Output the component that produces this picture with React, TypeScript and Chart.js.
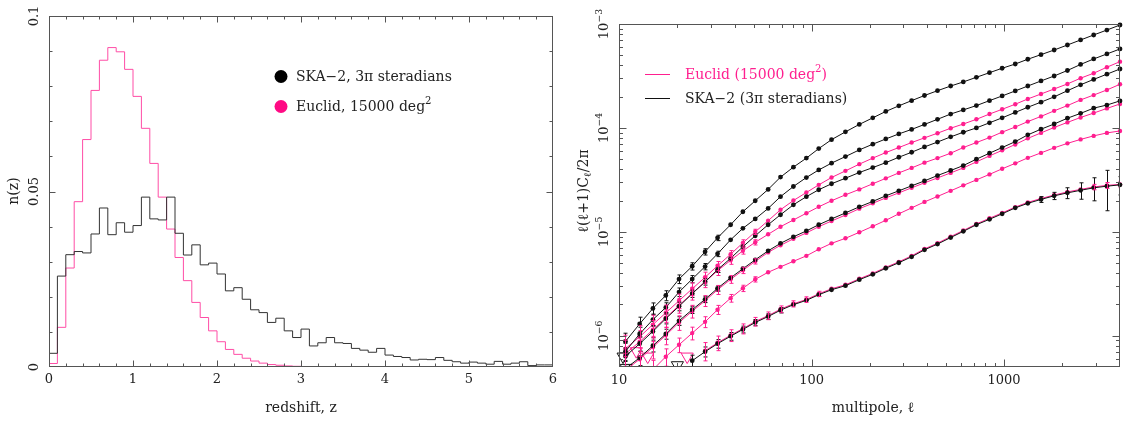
import React, { useEffect, useRef } from 'react';
import { Chart, registerables } from 'chart.js';
Chart.register(...registerables);

// ---------------- Left panel data: n(z) histograms ----------------
const zBins = [0.0, 0.1, 0.2, 0.3, 0.4, 0.5, 0.6, 0.7, 0.8, 0.9, 1.0, 1.1, 1.2, 1.3, 1.4, 1.5, 1.6, 1.7, 1.8, 1.9,
  2.0, 2.1, 2.2, 2.3, 2.4, 2.5, 2.6, 2.7, 2.8, 2.9, 3.0, 3.1, 3.2, 3.3, 3.4, 3.5, 3.6, 3.7, 3.8, 3.9,
  4.0, 4.1, 4.2, 4.3, 4.4, 4.5, 4.6, 4.7, 4.8, 4.9, 5.0, 5.1, 5.2, 5.3, 5.4, 5.5, 5.6, 5.7, 5.8, 5.9];
const zLastEdge = 6.0;
const nzSKA = [0.0039, 0.0259, 0.0320, 0.0329, 0.0325, 0.0379, 0.0453, 0.0377, 0.0411, 0.0384,
  0.0403, 0.0484, 0.0422, 0.0419, 0.0484, 0.0381, 0.0319, 0.0348, 0.0291, 0.0296,
  0.0265, 0.0217, 0.0226, 0.0193, 0.0163, 0.0155, 0.0127, 0.0139, 0.0103, 0.0084,
  0.0108, 0.0060, 0.0069, 0.0084, 0.0069, 0.0067, 0.0053, 0.0048, 0.0042, 0.0053,
  0.0034, 0.0030, 0.0027, 0.0020, 0.0022, 0.0021, 0.0027, 0.0019, 0.0015, 0.0011,
  0.0014, 0.0011, 0.0008, 0.0016, 0.0008, 0.0011, 0.0015, 0.0004, 0.0006, 0.0006];
const nzEuclid = [0.0010, 0.0113, 0.0282, 0.0471, 0.0648, 0.0788, 0.0874, 0.0910, 0.0898, 0.0848,
  0.0771, 0.0680, 0.0580, 0.0484, 0.0393, 0.0312, 0.0246, 0.0184, 0.0141, 0.0103,
  0.0072, 0.0050, 0.0036, 0.0025, 0.0017, 0.0011, 0.0007, 0.0005, 0.0003, 0.0002,
  0.0001, 0, 0, 0, 0, 0, 0, 0, 0, 0,
  0, 0, 0, 0, 0, 0, 0, 0, 0, 0,
  0, 0, 0, 0, 0, 0, 0, 0, 0, 0];
const zTickLabels = ['0', '1', '2', '3', '4', '5', '6'];
const nTickLabels = ['0', '0.05', '0.1'];

// ---------------- Right panel data: angular power spectra ----------------
const ell = [10.8, 12.8, 15.0, 17.5, 20.5, 24.0, 28.0, 32.5, 38.0, 44.0, 51.0, 59.5, 69.0, 80.5, 94.0, 109, 127, 150, 177, 208,
  243, 284, 331, 386, 451, 528, 614, 718, 840, 977, 1143, 1328, 1555, 1820, 2133, 2497, 2920, 3420, 4000];
const clSKA1 = [8.81e-7, 1.30e-6, 1.83e-6, 2.44e-6, 3.51e-6, 4.66e-6, 6.43e-6, 8.75e-6, 1.17e-5, 1.56e-5, 1.99e-5, 2.56e-5, 3.36e-5,
  4.19e-5, 5.12e-5, 6.32e-5, 7.71e-5, 9.16e-5, 1.08e-4, 1.25e-4, 1.44e-4, 1.63e-4, 1.83e-4, 2.05e-4, 2.28e-4, 2.53e-4, 2.77e-4,
  3.07e-4, 3.40e-4, 3.75e-4, 4.12e-4, 4.58e-4, 5.07e-4, 5.62e-4, 6.28e-4, 7.02e-4, 7.84e-4, 8.75e-4, 9.78e-4];
const clSKA2 = [7.06e-7, 1.04e-6, 1.43e-6, 1.87e-6, 2.63e-6, 3.51e-6, 4.63e-6, 6.14e-6, 8.38e-6, 1.08e-5, 1.33e-5, 1.68e-5, 2.18e-5,
  2.73e-5, 3.33e-5, 3.94e-5, 4.58e-5, 5.30e-5, 6.14e-5, 6.97e-5, 7.83e-5, 8.75e-5, 9.67e-5, 1.08e-4, 1.21e-4, 1.36e-4, 1.49e-4,
  1.64e-4, 1.83e-4, 2.03e-4, 2.27e-4, 2.53e-4, 2.83e-4, 3.16e-4, 3.57e-4, 4.08e-4, 4.61e-4, 5.15e-4, 5.75e-4];
const clSKA3 = [6.35e-7, 8.38e-7, 1.10e-6, 1.46e-6, 1.92e-6, 2.54e-6, 3.30e-6, 4.32e-6, 5.56e-6, 7.18e-6, 9.16e-6, 1.17e-5, 1.46e-5,
  1.82e-5, 2.18e-5, 2.54e-5, 2.90e-5, 3.28e-5, 3.72e-5, 4.15e-5, 4.63e-5, 5.22e-5, 5.83e-5, 6.56e-5, 7.31e-5, 8.20e-5, 9.08e-5,
  1.00e-4, 1.12e-4, 1.25e-4, 1.41e-4, 1.58e-4, 1.77e-4, 1.99e-4, 2.28e-4, 2.60e-4, 2.93e-4, 3.29e-4, 3.69e-4];
const clSKA4 = [4.82e-7, 6.14e-7, 8.02e-7, 1.04e-6, 1.39e-6, 1.78e-6, 2.24e-6, 2.86e-6, 3.61e-6, 4.41e-6, 5.38e-6, 6.56e-6, 7.74e-6,
  8.95e-6, 1.02e-5, 1.17e-5, 1.33e-5, 1.52e-5, 1.74e-5, 1.96e-5, 2.22e-5, 2.48e-5, 2.77e-5, 3.09e-5, 3.48e-5, 3.89e-5, 4.34e-5,
  5.00e-5, 5.71e-5, 6.47e-5, 7.38e-5, 8.57e-5, 9.72e-5, 1.09e-4, 1.24e-4, 1.38e-4, 1.55e-4, 1.66e-4, 1.82e-4];
const clSKA5 = [null, null, null, null, null, 5.75e-7, 7.02e-7, 8.38e-7, 9.89e-7, 1.15e-6, 1.34e-6, 1.53e-6, 1.76e-6,
  1.99e-6, 2.19e-6, 2.48e-6, 2.77e-6, 3.03e-6, 3.46e-6, 3.90e-6, 4.46e-6, 5.04e-6, 5.75e-6, 6.71e-6, 7.62e-6, 8.81e-6, 1.01e-5,
  1.17e-5, 1.32e-5, 1.49e-5, 1.70e-5, 1.88e-5, 2.05e-5, 2.22e-5, 2.37e-5, 2.51e-5, 2.65e-5, 2.75e-5, 2.83e-5];
const clEuc1 = [7.50e-7, 9.77e-7, 1.28e-6, 1.66e-6, 2.17e-6, 2.83e-6, 3.65e-6, 4.71e-6, 6.08e-6, 7.83e-6, 1.00e-5, 1.28e-5, 1.63e-5,
  2.00e-5, 2.39e-5, 2.83e-5, 3.33e-5, 3.86e-5, 4.48e-5, 5.12e-5, 5.79e-5, 6.47e-5, 7.23e-5, 8.02e-5, 8.89e-5, 9.93e-5, 1.09e-4,
  1.21e-4, 1.36e-4, 1.51e-4, 1.69e-4, 1.90e-4, 2.12e-4, 2.37e-4, 2.65e-4, 3.01e-4, 3.36e-4, 3.84e-4, 4.34e-4];
const clEuc2 = [6.71e-7, 8.75e-7, 1.14e-6, 1.49e-6, 1.96e-6, 2.56e-6, 3.30e-6, 4.22e-6, 5.32e-6, 6.56e-6, 7.93e-6, 9.46e-6, 1.12e-5,
  1.30e-5, 1.51e-5, 1.74e-5, 1.99e-5, 2.27e-5, 2.56e-5, 2.90e-5, 3.27e-5, 3.69e-5, 4.12e-5, 4.63e-5, 5.12e-5, 5.71e-5, 6.47e-5,
  7.23e-5, 8.07e-5, 9.10e-5, 1.02e-4, 1.15e-4, 1.29e-4, 1.46e-4, 1.64e-4, 1.86e-4, 2.07e-4, 2.32e-4, 2.63e-4];
const clEuc3 = [4.66e-7, 5.94e-7, 7.76e-7, 1.01e-6, 1.34e-6, 1.72e-6, 2.17e-6, 2.77e-6, 3.49e-6, 4.26e-6, 5.20e-6, 6.34e-6, 7.41e-6,
  8.57e-6, 9.76e-6, 1.12e-5, 1.27e-5, 1.45e-5, 1.67e-5, 1.88e-5, 2.12e-5, 2.37e-5, 2.65e-5, 2.96e-5, 3.30e-5, 3.69e-5, 4.12e-5,
  4.71e-5, 5.38e-5, 6.08e-5, 6.93e-5, 7.93e-5, 8.95e-5, 1.01e-4, 1.13e-4, 1.26e-4, 1.39e-4, 1.54e-4, 1.70e-4];
const clEuc4 = [2.77e-7, 3.61e-7, 4.71e-7, 6.28e-7, 8.18e-7, 1.06e-6, 1.36e-6, 1.78e-6, 2.30e-6, 2.86e-6, 3.49e-6, 4.08e-6, 4.60e-6,
  5.20e-6, 5.87e-6, 6.79e-6, 7.74e-6, 8.66e-6, 9.89e-6, 1.13e-5, 1.29e-5, 1.49e-5, 1.70e-5, 1.94e-5, 2.19e-5, 2.48e-5, 2.80e-5,
  3.16e-5, 3.57e-5, 4.04e-5, 4.56e-5, 5.15e-5, 5.75e-5, 6.43e-5, 7.10e-5, 7.75e-5, 8.38e-5, 8.95e-5, 9.35e-5];
const clEuc5 = [null, null, null, null, null, null, 7.16e-7, 8.55e-7, 1.01e-6, 1.17e-6, 1.37e-6, 1.56e-6, 1.80e-6,
  2.03e-6, 2.23e-6, 2.53e-6, 2.83e-6, 3.09e-6, 3.53e-6, 3.98e-6, 4.55e-6, 5.14e-6, 5.87e-6, 6.84e-6, 7.77e-6, 8.99e-6, 1.03e-5,
  1.19e-5, 1.35e-5, 1.52e-5, 1.73e-5, 1.92e-5, 2.09e-5, 2.26e-5, 2.42e-5, 2.56e-5, 2.70e-5, 2.80e-5, 2.86e-5];
// fractional 1-sigma errors
const errSKA = [0.20, 0.16, 0.13, 0.11, 0.095, 0.08, 0.07, 0.06, 0.05, 0.042, 0.035, 0.03, 0.025, 0.021, 0.018, 0.015, 0.013, 0.011,
  0.01, 0.009, 0.008, 0.007, 0.006, 0.006, 0.005, 0.005, 0.005, 0.005, 0.005, 0.005, 0.005, 0.005, 0.005, 0.005, 0.005, 0.005,
  0.006, 0.006, 0.007];
const errEuclid = [0.35, 0.28, 0.23, 0.19, 0.16, 0.14, 0.12, 0.10, 0.085, 0.07, 0.058, 0.048, 0.04, 0.034, 0.028, 0.024, 0.02, 0.017,
  0.015, 0.013, 0.012, 0.011, 0.01, 0.009, 0.009, 0.008, 0.008, 0.008, 0.008, 0.008, 0.008, 0.008, 0.008, 0.009, 0.009, 0.01,
  0.01, 0.011, 0.012];
const errSKA5 = [null, null, null, null, null, 0.13, 0.11, 0.095, 0.085, 0.075, 0.068, 0.062, 0.058, 0.055, 0.052,
  0.05, 0.05, 0.05, 0.05, 0.05, 0.05, 0.05, 0.05, 0.05, 0.05, 0.05, 0.05, 0.05, 0.05, 0.05, 0.05,
  0.055, 0.065, 0.08, 0.12, 0.18, 0.25, 0.42, 0.2];
const errEuc5 = [null, null, null, null, null, null, 0.2, 0.16, 0.13, 0.11, 0.095, 0.085, 0.075, 0.068, 0.062, 0.058, 0.055, 0.052, 0.05,
  0.05, 0.05, 0.05, 0.05, 0.05, 0.05, 0.05, 0.05, 0.05, 0.05, 0.05, 0.05, 0.05, 0.05, 0.05, 0.05,
  0.055, 0.06, 0.065, 0.07];
// upper limits (open triangles)
const limSKAEll = [10.5, 10.9, 20.1];
const limSKACl = [6.3e-7, 4.9e-7, 5.2e-7];
const limEucEll = [12.3, 14.1, 22.6];
const limEucCl = [7.1e-7, 6.3e-7, 6.3e-7];
const ellTickVals = [10, 100, 1000];
const ellTickLabels = ['10', '100', '1000'];
const clTickVals = [1e-6, 1e-5, 1e-4, 1e-3];
const clTickExps = ['−6', '−5', '−4', '−3'];

// ---------------- styling ----------------
const FONT = '"DejaVu Serif", "Liberation Serif", serif';
const PINK = '#ff1f8f';
const PINK_HIST = '#ff4da6';
const BLACK = '#111111';
const FRAME = '#555555';
const TEXT = '#222222';

type Part = { t: string; sup?: boolean; sub?: boolean };

function drawRich(ctx: CanvasRenderingContext2D, parts: Part[], x: number, y: number, size: number, color: string,
  align: 'left' | 'center' | 'right', rot = 0) {
  ctx.save();
  ctx.translate(x, y);
  ctx.rotate(rot);
  ctx.fillStyle = color;
  ctx.textBaseline = 'middle';
  ctx.textAlign = 'left';
  const m = parts.map((p) => {
    const s = p.sup || p.sub ? size * 0.72 : size;
    ctx.font = `${s}px ${FONT}`;
    return { p, s, w: ctx.measureText(p.t).width };
  });
  const total = m.reduce((a, b) => a + b.w, 0);
  let cx = align === 'left' ? 0 : align === 'center' ? -total / 2 : -total;
  for (const it of m) {
    ctx.font = `${it.s}px ${FONT}`;
    const dy = it.p.sup ? -size * 0.42 : it.p.sub ? size * 0.3 : 0;
    ctx.fillText(it.p.t, cx, dy);
    cx += it.w;
  }
  ctx.restore();
}

function seg(ctx: CanvasRenderingContext2D, x1: number, y1: number, x2: number, y2: number) {
  ctx.beginPath();
  ctx.moveTo(x1, y1);
  ctx.lineTo(x2, y2);
  ctx.stroke();
}

function drawFrame(chart: any, xt: { v: number; len: number }[], yt: { v: number; len: number }[]) {
  const { ctx, chartArea: a, scales } = chart;
  const L = Math.round(a.left) + 0.5, R = Math.round(a.right) - 0.5;
  const T = Math.round(a.top) + 0.5, B = Math.round(a.bottom) - 0.5;
  ctx.save();
  ctx.strokeStyle = FRAME;
  ctx.lineWidth = 1;
  ctx.strokeRect(L, T, R - L, B - T);
  for (const t of xt) {
    const px = Math.round(scales.x.getPixelForValue(t.v)) + 0.5;
    if (px < L - 0.1 || px > R + 0.1) continue;
    seg(ctx, px, B, px, B - t.len);
    seg(ctx, px, T, px, T + t.len);
  }
  for (const t of yt) {
    const py = Math.round(scales.y.getPixelForValue(t.v)) + 0.5;
    if (py < T - 0.1 || py > B + 0.1) continue;
    seg(ctx, L, py, L + t.len, py);
    seg(ctx, R, py, R - t.len, py);
  }
  ctx.restore();
}

function leftConfig(): any {
  const hist = (vals: number[]) =>
    zBins.map((z, i) => ({ x: z, y: vals[i] })).concat([{ x: zLastEdge, y: vals[vals.length - 1] }]);
  const framePlugin = {
    id: 'leftFrame',
    afterDraw(chart: any) {
      const ctx = chart.ctx;
      const xt: { v: number; len: number }[] = [];
      for (let i = 0; i <= 30; i++) xt.push({ v: i * 0.2, len: i % 5 === 0 ? 6 : 3 });
      const yt: { v: number; len: number }[] = [];
      for (let i = 0; i <= 10; i++) yt.push({ v: i * 0.01, len: i % 5 === 0 ? 6 : 3 });
      drawFrame(chart, xt, yt);
      const sx = chart.scales.x, sy = chart.scales.y;
      zTickLabels.forEach((lab) => {
        drawRich(ctx, [{ t: lab }], sx.getPixelForValue(parseFloat(lab)), 380, 13, TEXT, 'center');
      });
      nTickLabels.forEach((lab) => {
        drawRich(ctx, [{ t: lab }], 34.5, sy.getPixelForValue(parseFloat(lab)), 13, TEXT, 'center', -Math.PI / 2);
      });
      drawRich(ctx, [{ t: 'redshift, z' }], 301, 408, 14, TEXT, 'center');
      drawRich(ctx, [{ t: 'n(z)' }], 14, 191, 14, TEXT, 'center', -Math.PI / 2);
      // legend
      ctx.save();
      ctx.fillStyle = '#000000';
      ctx.beginPath(); ctx.arc(281, 76.5, 6.5, 0, Math.PI * 2); ctx.fill();
      ctx.fillStyle = '#ff0a84';
      ctx.beginPath(); ctx.arc(281, 106.5, 6.5, 0, Math.PI * 2); ctx.fill();
      ctx.restore();
      drawRich(ctx, [{ t: 'SKA−2, 3π steradians' }], 296, 77, 14, TEXT, 'left');
      drawRich(ctx, [{ t: 'Euclid, 15000 deg' }, { t: '2', sup: true }], 296, 107, 14, TEXT, 'left');
    },
  };
  return {
    type: 'line',
    data: {
      datasets: [
        { data: hist(nzSKA), borderColor: '#333333', borderWidth: 1, pointRadius: 0, stepped: 'before', fill: false },
        { data: hist(nzEuclid), borderColor: PINK_HIST, borderWidth: 1, pointRadius: 0, stepped: 'before', fill: false },
      ],
    },
    options: {
      animation: false,
      responsive: false,
      devicePixelRatio: 1,
      events: [],
      layout: { padding: { left: 49, right: 7, top: 16, bottom: 54 } },
      scales: {
        x: { type: 'linear', min: 0, max: 6, display: false },
        y: { type: 'linear', min: 0, max: 0.1, display: false },
      },
      plugins: { legend: { display: false }, tooltip: { enabled: false } },
    },
    plugins: [framePlugin],
  };
}

function rightConfig(): any {
  const pts = (vals: (number | null)[]) => ell.map((l, i) => ({ x: l, y: vals[i] }));
  const curve = (vals: (number | null)[], color: string, errs: (number | null)[], r: number) => ({
    data: pts(vals),
    borderColor: color,
    backgroundColor: color,
    borderWidth: 1,
    pointRadius: r,
    pointBorderWidth: 0,
    pointBackgroundColor: color,
    fill: false,
    tension: 0,
    spanGaps: false,
    clip: { left: 0, top: 4, right: 4, bottom: 0 },
    errs,
  });
  const limits = (ls: number[], cs: number[], color: string) => ({
    data: ls.map((l, i) => ({ x: l, y: cs[i] })),
    showLine: false,
    pointStyle: 'triangle',
    rotation: 180,
    pointRadius: 7,
    pointBorderWidth: 1,
    pointBorderColor: color,
    pointBackgroundColor: 'rgba(0,0,0,0)',
    borderColor: color,
    clip: { left: 8, top: 0, right: 0, bottom: 0 },
  });
  const errPlugin = {
    id: 'errbars',
    afterDatasetsDraw(chart: any) {
      const { ctx, chartArea: a, scales } = chart;
      ctx.save();
      ctx.beginPath();
      ctx.rect(a.left, a.top, a.right - a.left, a.bottom - a.top);
      ctx.clip();
      ctx.lineWidth = 1;
      chart.data.datasets.forEach((ds: any) => {
        if (!ds.errs) return;
        ctx.strokeStyle = ds.borderColor;
        ds.data.forEach((p: any, i: number) => {
          const e = ds.errs[i];
          if (p.y == null || e == null) return;
          const px = Math.round(scales.x.getPixelForValue(p.x)) + 0.5;
          const y1 = scales.y.getPixelForValue(p.y * (1 + e));
          const y2 = scales.y.getPixelForValue(Math.max(p.y * (1 - e), 1e-9));
          if (y2 - y1 < 5) return;
          seg(ctx, px, y1, px, y2);
          seg(ctx, px - 2, y1, px + 2, y1);
          seg(ctx, px - 2, y2, px + 2, y2);
        });
      });
      ctx.restore();
    },
  };
  const framePlugin = {
    id: 'rightFrame',
    afterDraw(chart: any) {
      const ctx = chart.ctx;
      const xt: { v: number; len: number }[] = [];
      [10, 100, 1000].forEach((d) => {
        for (let m = 1; m <= 9; m++) if (d * m <= 4000) xt.push({ v: d * m, len: m === 1 ? 7 : 3.5 });
      });
      const yt: { v: number; len: number }[] = [];
      [1e-7, 1e-6, 1e-5, 1e-4].forEach((d) => {
        for (let m = 1; m <= 9; m++) {
          const v = d * m;
          if (v >= 4.99e-7 && v <= 1.0001e-3) yt.push({ v, len: m === 1 ? 7 : 3.5 });
        }
      });
      yt.push({ v: 1e-3, len: 7 });
      drawFrame(chart, xt, yt);
      const sx = chart.scales.x, sy = chart.scales.y;
      ellTickVals.forEach((v, i) => {
        drawRich(ctx, [{ t: ellTickLabels[i] }], sx.getPixelForValue(v), 381, 13, TEXT, 'center');
      });
      clTickVals.forEach((v, i) => {
        drawRich(ctx, [{ t: '10' }, { t: clTickExps[i], sup: true }], 45, sy.getPixelForValue(v), 13, TEXT, 'center', -Math.PI / 2);
      });
      drawRich(ctx, [{ t: 'multipole, ℓ' }], 313, 408, 14, TEXT, 'center');
      drawRich(ctx, [{ t: 'ℓ(ℓ+1)C' }, { t: 'ℓ', sub: true }, { t: '/2π' }], 24, 191, 14, TEXT, 'center', -Math.PI / 2);
      // legend
      ctx.save();
      ctx.lineWidth = 1;
      ctx.strokeStyle = PINK;
      seg(ctx, 85, 74.5, 110, 74.5);
      ctx.strokeStyle = BLACK;
      seg(ctx, 85, 98.5, 110, 98.5);
      ctx.restore();
      drawRich(ctx, [{ t: 'Euclid (15000 deg' }, { t: '2', sup: true }, { t: ')' }], 125, 75, 14, PINK, 'left');
      drawRich(ctx, [{ t: 'SKA−2 (3π steradians)' }], 125, 99, 14, TEXT, 'left');
    },
  };
  return {
    type: 'line',
    data: {
      datasets: [
        curve(clSKA1, BLACK, errSKA, 2.4),
        curve(clSKA2, BLACK, errSKA, 2.4),
        curve(clSKA3, BLACK, errSKA, 2.4),
        curve(clSKA4, BLACK, errSKA, 2.4),
        curve(clSKA5, BLACK, errSKA5, 2.4),
        curve(clEuc1, PINK, errEuclid, 2.2),
        curve(clEuc2, PINK, errEuclid, 2.2),
        curve(clEuc3, PINK, errEuclid, 2.2),
        curve(clEuc4, PINK, errEuclid, 2.2),
        curve(clEuc5, PINK, errEuc5, 2.2),
        limits(limSKAEll, limSKACl, BLACK),
        limits(limEucEll, limEucCl, PINK),
      ],
    },
    options: {
      animation: false,
      responsive: false,
      devicePixelRatio: 1,
      events: [],
      layout: { padding: { left: 59, right: 2, top: 24, bottom: 54 } },
      scales: {
        x: { type: 'logarithmic', min: 10, max: 4000, display: false },
        y: { type: 'logarithmic', min: 5e-7, max: 1e-3, display: false },
      },
      plugins: { legend: { display: false }, tooltip: { enabled: false } },
    },
    plugins: [errPlugin, framePlugin],
  };
}

export default function App() {
  const leftRef = useRef<HTMLCanvasElement>(null);
  const rightRef = useRef<HTMLCanvasElement>(null);
  useEffect(() => {
    const c1 = new Chart(leftRef.current as HTMLCanvasElement, leftConfig());
    const c2 = new Chart(rightRef.current as HTMLCanvasElement, rightConfig());
    return () => {
      c1.destroy();
      c2.destroy();
    };
  }, []);
  return (
    <div style={{ position: 'absolute', left: 0, top: 0, width: 1128, height: 421, background: '#ffffff' }}>
      <canvas ref={leftRef} width={560} height={421}
        style={{ position: 'absolute', left: 0, top: 0, width: 560, height: 421 }} />
      <canvas ref={rightRef} width={568} height={421}
        style={{ position: 'absolute', left: 560, top: 0, width: 568, height: 421 }} />
    </div>
  );
}
